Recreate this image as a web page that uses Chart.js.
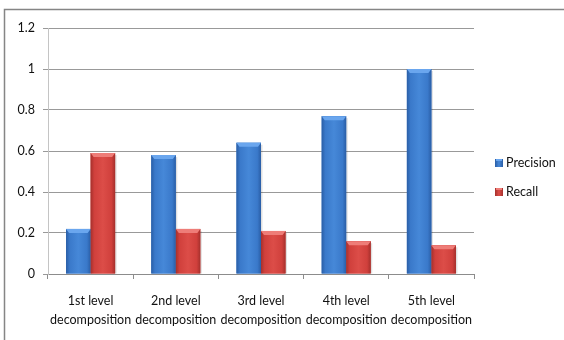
<!DOCTYPE html>
<html>
<head>
<meta charset="utf-8">
<script src="https://cdn.jsdelivr.net/npm/chart.js@4.4.1/dist/chart.umd.min.js"></script>
<style>
  html, body { margin: 0; padding: 0; background: #fff; }
  #wrap { position: relative; width: 564px; height: 340px; }
</style>
</head>
<body>
<div id="wrap"><canvas id="c" width="564" height="340"></canvas></div>
<script>
// Categories (two-line axis labels)
const categories = [
  ['1st level', 'decomposition'],
  ['2nd level', 'decomposition'],
  ['3rd level', 'decomposition'],
  ['4th level', 'decomposition'],
  ['5th level', 'decomposition']
];
const seriesNames = ['Precision', 'Recall'];
const precision = [0.22, 0.58, 0.64, 0.77, 1.0];
const recall = [0.59, 0.22, 0.21, 0.16, 0.14];
const yTicks = [0, 0.2, 0.4, 0.6, 0.8, 1, 1.2];

const FONT = 'Lato, "Liberation Sans", sans-serif';

// Shades per series: edge, body, highlight, top bevel
const palette = [
  { edge: '#2a5ea6', body: '#3a79ca', light: '#4688d8', top: '#6aa6ee' },
  { edge: '#a5302c', body: '#d0403c', light: '#dc4d48', top: '#ee7d78' }
];

// Cylindrical shading drawn over each bar the library has laid out
const barShading = {
  id: 'barShading',
  afterDatasetsDraw(chart) {
    const ctx = chart.ctx;
    ctx.save();
    chart.data.datasets.forEach((ds, di) => {
      const p = palette[di];
      chart.getDatasetMeta(di).data.forEach(bar => {
        const { x, y, base, width } = bar.getProps(['x', 'y', 'base', 'width'], true);
        const l = x - width / 2, r = x + width / 2, h = base - y;
        // soft shadow on the right
        ctx.fillStyle = 'rgba(0,0,0,0.12)';
        ctx.fillRect(r, y + 2, 1.5, h - 2);
        const g = ctx.createLinearGradient(l, 0, r, 0);
        g.addColorStop(0, p.edge);
        g.addColorStop(0.15, p.body);
        g.addColorStop(0.5, p.light);
        g.addColorStop(0.85, p.body);
        g.addColorStop(1, p.edge);
        ctx.fillStyle = g;
        ctx.fillRect(l, y, width, h);
        // bevel on top
        ctx.fillStyle = p.top;
        ctx.beginPath();
        ctx.moveTo(l, y);
        ctx.lineTo(r, y);
        ctx.lineTo(r - 3, y + 4);
        ctx.lineTo(l + 3, y + 4);
        ctx.closePath();
        ctx.fill();
      });
    });
    ctx.restore();
  }
};

// Outer frame (top and left edges) and the series key on the right
const frameAndKey = {
  id: 'frameAndKey',
  beforeDraw(chart) {
    const ctx = chart.ctx;
    ctx.save();
    ctx.fillStyle = '#fff';
    ctx.fillRect(0, 0, chart.width, chart.height);
    ctx.strokeStyle = '#858585';
    ctx.lineWidth = 1.5;
    ctx.beginPath();
    ctx.moveTo(4.5, chart.height);
    ctx.lineTo(4.5, 9.5);
    ctx.lineTo(chart.width, 9.5);
    ctx.stroke();
    ctx.restore();
  },
  afterDraw(chart) {
    const ctx = chart.ctx;
    ctx.save();
    ctx.font = '12.5px ' + FONT;
    ctx.textBaseline = 'middle';
    ctx.textAlign = 'left';
    chart.data.datasets.forEach((ds, i) => {
      const p = palette[i];
      const cy = 163 + i * 29;
      const g = ctx.createLinearGradient(495, 0, 503, 0);
      g.addColorStop(0, p.edge);
      g.addColorStop(0.5, p.light);
      g.addColorStop(1, p.edge);
      ctx.fillStyle = g;
      ctx.fillRect(495, cy - 4, 8, 8);
      ctx.fillStyle = p.top;
      ctx.fillRect(496, cy - 4, 6, 2);
      ctx.fillStyle = '#111';
      ctx.fillText(ds.label, 506, cy);
    });
    ctx.restore();
  }
};

new Chart(document.getElementById('c'), {
  type: 'bar',
  data: {
    labels: categories,
    datasets: [
      { label: seriesNames[0], data: precision, backgroundColor: palette[0].body },
      { label: seriesNames[1], data: recall, backgroundColor: palette[1].body }
    ]
  },
  options: {
    responsive: false,
    animation: false,
    events: [],
    layout: { padding: { top: 28, right: 90, left: 0, bottom: 0 } },
    datasets: { bar: { barPercentage: 1, categoryPercentage: 0.576 } },
    plugins: { legend: { display: false }, tooltip: { enabled: false } },
    scales: {
      x: {
        grid: { drawOnChartArea: false, drawTicks: true, tickLength: 5, color: '#8c8c8c', offset: true },
        border: { color: '#8c8c8c' },
        ticks: {
          font: { family: FONT, size: 12.5, lineHeight: 1.55 },
          color: '#111', padding: 12, maxRotation: 0, minRotation: 0, autoSkip: false
        },
        afterFit(s) { s.height = 66; }
      },
      y: {
        min: 0, max: 1.2,
        afterBuildTicks(s) { s.ticks = yTicks.map(v => ({ value: v })); },
        ticks: {
          callback: v => String(v),
          font: { family: FONT, size: 12.5 }, color: '#111', padding: 8
        },
        grid: { color: '#999', tickLength: 5, drawTicks: true },
        border: { display: true, color: '#c4c4c4' },
        afterFit(s) { s.width = 48; }
      }
    }
  },
  plugins: [barShading, frameAndKey]
});
</script>
</body>
</html>
